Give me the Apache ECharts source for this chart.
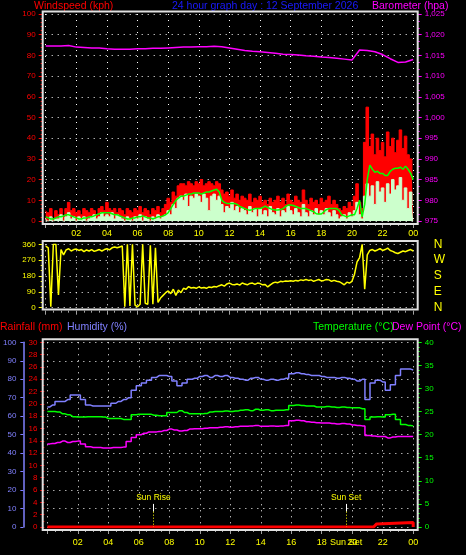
<!DOCTYPE html>
<html><head><meta charset="utf-8">
<script src="https://cdn.jsdelivr.net/npm/echarts@6/dist/echarts.min.js"></script>
<style>html,body{margin:0;padding:0;background:#000;}#c{width:466px;height:555px;}</style>
</head><body><div id="c"></div>
<script>
// ---------- DATA ----------
// wind (kph), 10-minute samples from 00:00 to 24:00
const windGust = [
5,4,6,1,5,3, 6,2,6,9,5,6, 4,5,3,6,5,4, 6,5,3,6,7,5,
9,6,5,6,4,6, 5,3,6,5,4,6, 5,7,4,6,5,3, 6,5,7,4,6,8,
11,9,14,12,17,18, 18,17,19,18,17,19, 18,20,17,18,19,18, 17,19,18,15,13,14,
12,15,11,13,10,12, 11,10,13,9,11,10, 12,9,10,8,11,9, 10,12,9,11,8,13,
10,9,12,10,9,15, 10,8,11,9,10,8, 11,9,10,12,8,10, 8,6,5,7,6,9,
7,12,18,9,6,38, 55,36,42,32,40,34, 38,31,43,36,40,33, 39,44,35,41,32,30,
21];
const windSpeed = [
1,0,2,0,1,1, 3,0,2,4,1,2, 0,2,1,2,0,1, 2,3,1,2,4,2,
3,2,4,1,3,2, 1,0,2,1,0,2, 1,3,0,2,1,0, 2,1,3,1,2,3,
5,3,8,6,11,12, 10,13,7,12,11,13, 12,9,13,11,5,12, 13,10,12,8,4,7,
6,9,5,7,4,6, 5,3,7,4,6,2, 6,3,5,2,7,4, 3,6,2,5,4,7,
5,3,6,4,2,8, 4,2,5,3,6,3, 5,3,6,4,2,5, 3,1,2,3,1,4,
2,5,9,3,1,12, 18,12,17,8,19,14, 16,9,18,13,20,15, 17,21,10,16,6,14,
8];
const windAvg = [
2,1.5,1,1,1.5,2, 2,2.5,3,3,2.5,2, 1.5,1,1,1.5,1.5,2, 2,2.5,3,3.5,4,4,
4,4,3.5,3,3,2.5, 2,1.5,1,1,1.5,1.5, 2,2,2.5,2,1.5,1.5, 1,1.5,2,2,2.5,3,
4,6,8,10,11,12, 12,12.5,13,13,13.5,13.5, 13.5,13,13.5,14,14,14.5, 15,15.3,14,10,9,8.5,
8.5,8.5,8.5,8,7,6.5, 6,5.5,5.2,5.5,6,6, 6,6.5,7.2,6.5,6,5.5, 5.3,5.3,5.5,6,7,7.7,
7.7,7.5,7,6.5,6,6, 6,5.5,5,4.5,3.5,3.4, 3.4,4.5,5.5,6,6,6, 6,5,3,2.5,2,2.5,
3,3,6,10,2,8, 20,27,25,23.5,24,23, 23,22,22,24,25,25.5, 25.5,26,25,26.5,25,23,
20];
// barometer (hPa), 30-minute samples
const barometer = [
1017.3,1017.3,1017.3,1017.4,1017.0,1016.9,1016.8,1016.8,1016.6,1016.5,1016.5,1016.5,
1016.6,1016.6,1016.7,1016.7,1016.8,1016.9,1017.0,1017.0,1017.1,1017.1,1017.2,1017.1,
1016.8,1016.5,1016.2,1016.0,1015.9,1015.7,1015.5,1015.3,1015.2,1015.1,1014.9,1014.8,
1014.6,1014.5,1014.3,1014.1,1013.9,1016.3,1016.2,1015.9,1015.2,1014.2,1013.3,1013.4,1014.0];
// wind direction (degrees), 10-minute samples
const windDir = [
350,340,5,360,360,72, 330,300,328,335,322,330, 333,325,330,318,328,322, 330,320,325,330,322,330,
335,328,340,345,340,345, 350,5,360,10,360,15, 5,20,360,25,20,355, 20,340,30,55,70,85,
95,80,105,70,100,85, 110,105,120,112,115,110, 118,112,115,110,118,115, 120,118,125,130,122,135,
140,132,130,135,128,140, 135,130,138,140,132,140, 137,130,132,118,130,140, 145,142,150,148,152,150,
153,150,155,152,158,155, 160,155,158,150,155,160, 152,155,160,158,150,155, 150,148,140,130,145,140,
150,190,260,285,360,105, 300,325,330,322,328,335, 325,330,338,325,320,312, 308,315,322,318,325,330,
322];
// humidity (%), temperature and dew point (°C), 20-minute samples
const humidity = [
65,66,68,68,69,71.5,71.5,69,66,65.5,65.5,65.5,65.5,67,68,69,70,74,76.5,78,79.5,81,82,82,
81.5,79,76.5,78,80,80.5,81.5,82,81,82,81.5,82,81,80.5,80,79.5,80.5,81,80,79.5,80,79.5,80,80.5,
83,83.5,83,82.5,82,82,81.5,81,81,80.5,81,80.5,80,79,80,69,78,79.5,78.5,74,77,82,85.5,85.5,85];
const temperature = [
25.0,25.0,24.9,24.5,24.3,23.9,23.8,23.8,23.9,23.9,23.9,23.8,23.5,23.5,23.5,23.3,23.3,24.3,24.4,24.4,24.4,24.2,24.1,24.1,
24.8,24.8,25.2,24.8,24.5,24.5,24.5,24.6,24.9,25.0,25.0,25.1,25.0,25.1,25.3,25.4,25.2,25.5,25.3,25.4,25.2,25.3,25.3,25.4,
26.3,26.4,26.3,26.2,26.2,26.0,26.0,26.1,26.0,25.9,26.0,25.9,25.8,25.8,25.6,23.3,23.8,23.9,23.8,24.3,24.4,23.3,22.2,22.0,21.9];
const dewPoint = [
18.0,18.1,18.3,18.6,18.3,18.5,18.6,18.0,17.4,17.2,17.2,17.1,17.1,17.2,17.2,17.3,18.5,19.4,20.0,20.3,20.6,20.6,20.7,20.9,
21.2,21.0,20.8,20.9,21.2,21.3,21.3,21.4,21.5,21.5,21.6,21.7,21.6,21.7,21.8,21.8,21.9,22.0,21.8,21.8,21.9,21.8,21.9,22.0,
23.0,23.1,23.0,22.8,22.7,22.6,22.5,22.5,22.4,22.3,22.4,22.3,22.1,22.0,21.9,19.8,19.7,19.6,19.6,19.3,19.5,19.6,19.6,19.6,19.6];
// rainfall (mm) at given hours
const rainHours = [0, 21.4, 21.5, 21.6, 21.7, 24, 24];
const rainValues = [0, 0, 0.25, 0.5, 0.75, 0.75, 0];
// sun events (hour of day)
const sunHours = [6.96, 19.6];
const sunNames = ['Sun Rise', 'Sun Set'];
// axis ticks
const dirLabels = {0: 'N', 90: 'E', 180: 'S', 270: 'W', 360: 'N'};
const titleText = '24 hour graph day : 12 September 2026';

// ---------- CHART ----------
const FONT = "'Liberation Sans', Arial, sans-serif";
const pairs = (arr, perHour) => arr.map((v, i) => [i / perHour, v]);
const L = 45.7, R = 52.8;
const dotted = {show: true, lineStyle: {color: '#ffffff', type: [1, 5], width: 1}};
const hourFmt = v => v === 0 ? '' : (v === 24 ? '00' : String(v).padStart(2, '0'));

function xAx(grid, showLabels, margin) {
  return {
    type: 'value', gridIndex: grid, min: 0, max: 24, interval: 2, offset: 3,
    axisLine: {show: false, onZero: false},
    axisTick: {show: true, length: 4, lineStyle: {color: '#a0a0a0'}},
    minorTick: {show: true, splitNumber: 4, length: 2, lineStyle: {color: '#a0a0a0'}},
    axisLabel: {show: showLabels, color: '#ffff00', fontFamily: FONT, fontSize: 9, margin: margin, formatter: hourFmt},
    splitLine: dotted
  };
}
function yAx(grid, pos, min, max, interval, offset, color, minor, extra) {
  return Object.assign({
    type: 'value', gridIndex: grid, position: pos, min: min, max: max, interval: interval, offset: offset,
    axisLine: {show: false, onZero: false},
    axisTick: {show: true, length: 4, lineStyle: {color: color}},
    minorTick: {show: minor > 0, splitNumber: minor || 1, length: 2, lineStyle: {color: color}},
    axisLabel: {color: color, fontFamily: FONT, fontSize: 8, margin: 7},
    splitLine: {show: false}
  }, extra || {});
}
function line(name, x, y, data, color, width, extra) {
  return Object.assign({
    name: name, type: 'line', xAxisIndex: x, yAxisIndex: y, data: data, showSymbol: false, symbol: 'none',
    lineStyle: {color: color, width: width}, itemStyle: {color: color}, silent: true
  }, extra || {});
}

const chart = echarts.init(document.getElementById('c'));
const titleStyle = (c) => ({color: c, fontFamily: FONT, fontSize: 10.5, fontWeight: 'normal'});
const ttl = (text, left, top, color) => ({text: text, left: left, top: top, padding: 0, textStyle: titleStyle(color)});

const sunMarkLine = {
  symbol: ['none', 'none'], silent: true, animation: false,
  data: sunHours.flatMap((h, i) => [
    [{coord: [h, 12.5], lineStyle: {color: '#ffffff', width: 1, type: 'solid'},
      label: {show: true, position: 'start', formatter: sunNames[i], color: '#ffff00', fontFamily: FONT, fontSize: 8.5, distance: 2}},
     {coord: [h, 8.3]}],
    [{coord: [h, 8.3], lineStyle: {color: '#ffff00', width: 1, type: [1, 2]}, label: {show: false}},
     {coord: [h, 0]}]
  ])
};

// extra bottom axis carrying the sunset note under the time labels
const sunSetAxis = {
  type: 'value', gridIndex: 2, min: 0, max: 24, position: 'bottom', offset: 3,
  axisLine: {show: false, onZero: false}, axisTick: {show: false}, splitLine: {show: false},
  axisLabel: {show: true, color: '#ffff00', fontFamily: FONT, fontSize: 9, margin: 8,
    customValues: [sunHours[1]], formatter: () => sunNames[1], showMinLabel: true, showMaxLabel: true}
};

chart.setOption({
  backgroundColor: '#000000',
  animation: false,
  title: [
    ttl('Windspeed (kph)', 34, 1, '#ff0000'),
    ttl(titleText, 172, 1, '#1a1aff'),
    ttl('Barometer (hpa)', 372, 1, '#ff00ff'),
    ttl('Rainfall (mm)', 0, 322, '#ff0000'),
    ttl('Humidity (%)', 67, 322, '#8080ff'),
    ttl('Temperature (°C)', 313, 322, '#00ff00'),
    ttl('Dew Point (°C)', 392, 322, '#ff00ff')
  ],
  grid: [
    {left: L, right: R, top: 14, height: 207},
    {left: L, right: R, top: 244.3, height: 63.4},
    {left: L, right: R, top: 342.3, height: 184.7}
  ],
  xAxis: [xAx(0, true, 5), xAx(1, false, 4), xAx(2, true, 8), sunSetAxis],
  yAxis: [
    yAx(0, 'left', 0, 100, 10, 3, '#ff0000', 5, {splitLine: dotted}),
    yAx(0, 'right', 975, 1025, 5, 4.5, '#ff00ff', 3),
    yAx(1, 'left', 0, 360, 90, 3, '#ffff00', 3, {splitLine: dotted}),
    yAx(1, 'right', 0, 360, 90, 4.5, '#ffff00', 0, {
      axisTick: {show: false},
      axisLabel: {color: '#ffff00', fontFamily: FONT, fontSize: 12, margin: 16, formatter: v => dirLabels[v] || ''}
    }),
    yAx(2, 'left', 0, 100, 10, 24, '#8080ff', 0, {
      axisLine: {show: true, onZero: false, lineStyle: {color: '#8080ff', width: 1.5}},
      axisTick: {show: true, length: 3, lineStyle: {color: '#8080ff'}},
      splitLine: dotted
    }),
    yAx(2, 'left', 0, 30, 2, 3, '#ff0000', 2),
    yAx(2, 'right', 0, 40, 5, 4.5, '#00ff00', 5)
  ],
  graphic: [
    {type: 'rect', z: 50, silent: true, shape: {x: 42.7, y: 11.5, width: 375, height: 212.5}, style: {fill: null, stroke: '#e0e0e0', lineWidth: 2}},
    {type: 'rect', z: 50, silent: true, shape: {x: 42.7, y: 241, width: 375, height: 68.5}, style: {fill: null, stroke: '#e0e0e0', lineWidth: 2}},
    {type: 'rect', z: 50, silent: true, shape: {x: 42.7, y: 339.3, width: 375, height: 190.7}, style: {fill: null, stroke: '#e0e0e0', lineWidth: 2}}
  ],
  series: [
    line('Gust', 0, 0, pairs(windGust, 6), '#ff0000', 1, {step: 'middle', areaStyle: {color: '#ff0000', opacity: 1}}),
    line('Wind', 0, 0, pairs(windSpeed, 6), '#ccffcc', 1, {step: 'middle', areaStyle: {color: '#ccffcc', opacity: 1}}),
    line('Average', 0, 0, pairs(windAvg, 6), '#00ff00', 1.5),
    line('Barometer', 0, 1, pairs(barometer, 2), '#ff00ff', 1.5),
    line('Direction', 1, 2, pairs(windDir, 6), '#ffff00', 1.5),
    line('Humidity', 2, 4, pairs(humidity, 3), '#8080ff', 1.5, {step: 'middle', markLine: sunMarkLine}),
    line('Temperature', 2, 6, pairs(temperature, 3), '#00ff00', 1.5, {step: 'middle'}),
    line('Dew Point', 2, 6, pairs(dewPoint, 3), '#ff00ff', 1.5, {step: 'middle'}),
    line('Rainfall', 2, 5, rainHours.map((h, i) => [h, rainValues[i]]), '#ff0000', 3)
  ]
});
</script></body></html>
